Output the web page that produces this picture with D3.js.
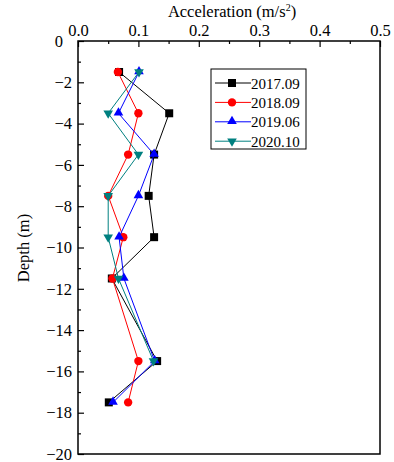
<!DOCTYPE html>
<html>
<head>
<meta charset="utf-8">
<script src="https://cdn.jsdelivr.net/npm/d3@7/dist/d3.min.js"></script>
<style>
  body { margin: 0; background: #fff; }
</style>
</head>
<body>
<svg id="chart" width="394" height="462"></svg>
<script>
// depths (m) and acceleration per survey
var depths = [-1.5, -3.5, -5.5, -7.5, -9.5, -11.5, -15.5, -17.5];
var acc2017 = [0.068, 0.151, 0.126, 0.117, 0.126, 0.056, 0.131, 0.051];
var acc2018 = [0.066, 0.100, 0.083, 0.050, 0.075, 0.057, 0.100, 0.083];
var acc2019 = [0.101, 0.067, 0.126, 0.100, 0.068, 0.076, 0.127, 0.058];
var acc2020 = [0.101, 0.050, 0.100, 0.050, 0.050, 0.067, 0.125];
var seriesNames = ["2017.09", "2018.09", "2019.06", "2020.10"];
var xTicks = [0, 0.1, 0.2, 0.3, 0.4, 0.5];
var yTicks = [0, -2, -4, -6, -8, -10, -12, -14, -16, -18, -20];

var series = [
  { name: seriesNames[0], vals: acc2017, color: "#000000", sym: "square" },
  { name: seriesNames[1], vals: acc2018, color: "#ff0000", sym: "circle" },
  { name: seriesNames[2], vals: acc2019, color: "#0000ff", sym: "tri" },
  { name: seriesNames[3], vals: acc2020, color: "#008080", sym: "tridown" }
];

var svg = d3.select("#chart");
// plot box (note: "top" is reserved on window, so use mTop)
var mLeft = 78, mRight = 380, mTop = 41, mBottom = 454;

var x = d3.scaleLinear().domain([0, 0.5]).range([mLeft, mRight]);
var y = d3.scaleLinear().domain([0, -20]).range([mTop, mBottom]);

// minor ticks (inward)
var xAxisMinor = d3.axisTop(x).tickValues(d3.range(0.05, 0.5, 0.1)).tickSize(-3).tickFormat("");
var yAxisMinor = d3.axisLeft(y).tickValues(d3.range(-1, -20, -2)).tickSize(-3).tickFormat("");

var gx = svg.append("g").attr("transform", "translate(0," + mTop + ")");
gx.call(d3.axisTop(x).tickValues(xTicks).tickSize(-6).tickPadding(5).tickFormat(d3.format(".1f")));
gx.append("g").call(xAxisMinor);

var gy = svg.append("g").attr("transform", "translate(" + mLeft + ",0)");
gy.call(d3.axisLeft(y).tickValues(yTicks).tickSize(-6).tickPadding(6)
  .tickFormat(function(d) { return d === 0 ? "0" : "\u2212" + Math.abs(d); }));
gy.append("g").call(yAxisMinor);

svg.selectAll(".domain").remove();
svg.selectAll(".tick line").attr("stroke", "#000").attr("stroke-width", 1.2);
gx.selectAll(".tick text").attr("font-size", 16.5).attr("fill", "#000");
gy.selectAll(".tick text").attr("font-size", 16.5).attr("fill", "#000");
gy.selectAll(".tick text").filter(function(d) { return d === 0; }).attr("dx", -9);

// frame
svg.append("rect")
  .attr("x", mLeft).attr("y", mTop)
  .attr("width", mRight - mLeft).attr("height", mBottom - mTop)
  .attr("fill", "none").attr("stroke", "#000").attr("stroke-width", 1.5);

// axis titles
var title = svg.append("text")
  .attr("x", 232).attr("y", 17)
  .attr("text-anchor", "middle")
  .attr("font-size", 16.5);
title.append("tspan").text("Acceleration (m/s");
title.append("tspan").attr("font-size", 10).attr("dy", -6).text("2");
title.append("tspan").attr("dy", 6).text(")");

svg.append("text")
  .attr("transform", "translate(29," + 248 + ") rotate(-90)")
  .attr("text-anchor", "middle").attr("font-size", 16.5)
  .text("Depth (m)");

var symbols = {
  square: d3.symbol().type(d3.symbolSquare).size(64),
  circle: d3.symbol().type(d3.symbolCircle).size(55),
  tri: d3.symbol().type(d3.symbolTriangle).size(40),
  tridown: d3.symbol().type(d3.symbolTriangle).size(40)
};

function drawMarker(g, s, cx, cy) {
  var p = g.append("path")
    .attr("d", symbols[s.sym]())
    .attr("fill", s.color);
  if (s.sym === "tridown") p.attr("transform", "translate(" + cx + "," + cy + ") rotate(180)");
  else if (s.sym === "tri") p.attr("transform", "translate(" + cx + "," + (cy - 0.5) + ")");
  else p.attr("transform", "translate(" + cx + "," + cy + ")");
}

var line = d3.line()
  .x(function(d) { return x(d[0]); })
  .y(function(d) { return y(d[1]); });

series.forEach(function(s) {
  var pts = s.vals.map(function(v, i) { return [v, depths[i]]; });
  var g = svg.append("g");
  g.append("path").datum(pts)
    .attr("d", line).attr("fill", "none")
    .attr("stroke", s.color).attr("stroke-width", 1);
  pts.forEach(function(p) { drawMarker(g, s, x(p[0]), y(p[1])); });
});

// legend
var lg = svg.append("g");
lg.append("rect")
  .attr("x", 211).attr("y", 69).attr("width", 95).attr("height", 80)
  .attr("fill", "#fff").attr("stroke", "#000").attr("stroke-width", 1);
series.forEach(function(s, i) {
  var ry = 83 + i * 19.4;
  lg.append("line").attr("x1", 215).attr("x2", 251).attr("y1", ry).attr("y2", ry)
    .attr("stroke", s.color).attr("stroke-width", 1);
  drawMarker(lg, s, 232, ry);
  lg.append("text").attr("x", 251).attr("y", ry + 5.5).attr("font-size", 15).text(s.name);
});

// Times-like face everywhere
svg.selectAll("text").style("font-family", "'Liberation Serif'");
</script>
</body>
</html>
